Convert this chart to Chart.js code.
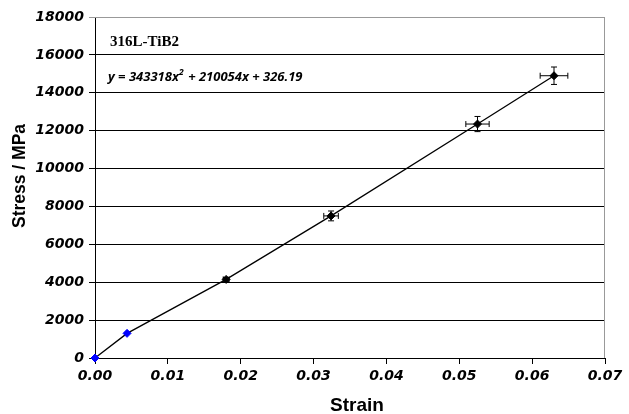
<!DOCTYPE html>
<html>
<head>
<meta charset="UTF-8">
<title>316L-TiB2 stress strain</title>
<script src="https://cdn.jsdelivr.net/npm/chart.js"></script>
<style>
body { margin: 0; background: #fff; }
#wrap { width: 629px; height: 414px; }
</style>
</head>
<body>
<div id="wrap"><canvas id="myChart" width="629" height="414"></canvas></div>
<script>
// values
const strain = [0, 0.0044, 0.0180, 0.0324, 0.0525, 0.0630];
const stress = [0, 1300, 4150, 7500, 12350, 14900];
const strainErr = [0, 0, 0.0004, 0.0010, 0.0016, 0.0019];
const stressErr = [0, 0, 100, 260, 400, 460];
const pointColors = ['#0000ff', '#0000ff', '#000000', '#000000', '#000000', '#000000'];
const sampleName = '316L-TiB2';
const fitText = ['y = 343318x', '2', ' + 210054x + 326.19'];
const xTitle = 'Strain';
const yTitle = 'Stress / MPa';

const pts = strain.map((x, i) => ({ x: x, y: stress[i] }));

// error bars + labels inside the plot
const extras = {
  id: 'extras',
  afterDatasetsDraw(chart) {
    const ctx = chart.ctx;
    const xs = chart.scales.x, ys = chart.scales.y;
    const a = chart.chartArea;
    ctx.save();
    // frame top / right in grey
    ctx.strokeStyle = '#999';
    ctx.lineWidth = 1;
    ctx.beginPath();
    ctx.moveTo(a.left, a.top + 0.5);
    ctx.lineTo(a.right - 0.5, a.top + 0.5);
    ctx.lineTo(a.right - 0.5, a.bottom);
    ctx.stroke();

    ctx.strokeStyle = '#000';
    for (let i = 0; i < strain.length; i++) {
      if (!strainErr[i] && !stressErr[i]) continue;
      const px = xs.getPixelForValue(strain[i]);
      const py = ys.getPixelForValue(stress[i]);
      const x1 = xs.getPixelForValue(strain[i] - strainErr[i]);
      const x2 = xs.getPixelForValue(strain[i] + strainErr[i]);
      const y1 = ys.getPixelForValue(stress[i] - stressErr[i]);
      const y2 = ys.getPixelForValue(stress[i] + stressErr[i]);
      ctx.beginPath();
      ctx.moveTo(x1, py); ctx.lineTo(x2, py);
      ctx.moveTo(x1, py - 3); ctx.lineTo(x1, py + 3);
      ctx.moveTo(x2, py - 3); ctx.lineTo(x2, py + 3);
      ctx.moveTo(px, y1); ctx.lineTo(px, y2);
      ctx.moveTo(px - 3, y1); ctx.lineTo(px + 3, y1);
      ctx.moveTo(px - 3, y2); ctx.lineTo(px + 3, y2);
      ctx.stroke();
    }

    ctx.fillStyle = '#000';
    ctx.textBaseline = 'alphabetic';
    ctx.textAlign = 'left';
    ctx.font = 'bold 15px "Liberation Serif"';
    ctx.fillText(sampleName, a.left + 15, a.top + 29);

    ctx.font = 'italic bold 13px "Open Sans"';
    let tx = a.left + 13;
    const ty = a.top + 64;
    ctx.fillText(fitText[0], tx, ty);
    tx += ctx.measureText(fitText[0]).width;
    ctx.font = 'italic bold 9px "Open Sans"';
    ctx.fillText(fitText[1], tx, ty - 6);
    tx += ctx.measureText(fitText[1]).width + 1;
    ctx.font = 'italic bold 13px "Open Sans"';
    ctx.fillText(fitText[2], tx, ty);

    // axis titles
    ctx.font = 'bold 19px "Liberation Sans"';
    ctx.textAlign = 'center';
    ctx.fillText(xTitle, 357, 411);
    ctx.translate(25, 176);
    ctx.rotate(-Math.PI / 2);
    ctx.font = 'bold 17.5px "Liberation Sans"';
    ctx.fillText(yTitle, 0, 0);
    ctx.restore();
  }
};

const ctx = document.getElementById('myChart').getContext('2d');
const myChart = new Chart(ctx, {
  type: 'scatter',
  data: {
    datasets: [{
      data: pts,
      showLine: true,
      clip: false,
      borderColor: '#000',
      borderWidth: 1.3,
      pointStyle: 'rectRot',
      pointRadius: 4,
      pointBackgroundColor: pointColors,
      pointBorderColor: pointColors,
      pointBorderWidth: 1
    }]
  },
  plugins: [extras],
  options: {
    responsive: false,
    animation: false,
    layout: { padding: { left: 0, top: 17, right: 24, bottom: 0 } },
    plugins: { legend: { display: false }, tooltip: { enabled: false } },
    scales: {
      x: {
        type: 'linear',
        min: 0, max: 0.07,
        afterFit: s => { s.height = 56; },
        ticks: {
          stepSize: 0.01,
          color: '#000',
          padding: 4,
          font: { family: 'DejaVu Sans', size: 14, weight: 'bold', style: 'italic' },
          callback: v => v.toFixed(2)
        },
        grid: { drawOnChartArea: false, drawTicks: true, tickLength: 6, color: '#000' },
        border: { color: '#000' }
      },
      y: {
        min: 0, max: 18000,
        afterFit: s => { s.width = 95; },
        ticks: {
          stepSize: 2000,
          color: '#000',
          padding: 5,
          font: { family: 'DejaVu Sans', size: 14, weight: 'bold', style: 'italic' },
          callback: v => String(v)
        },
        grid: {
          color: c => c.tick && c.tick.value === 18000 ? '#999' : '#000',
          tickLength: 6, lineWidth: 1
        },
        border: { color: '#000' }
      }
    }
  }
});
</script>
</body>
</html>
